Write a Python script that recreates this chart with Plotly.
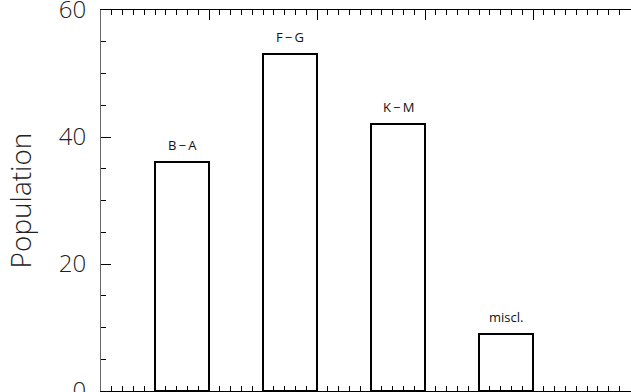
import plotly.graph_objects as go

categories = ["B\u2009\u2212\u2009A", "F\u2009\u2212\u2009G", "K\u2009\u2212\u2009M", "miscl."]
positions = [0.75, 1.75, 2.75, 3.75]
population = [36, 53, 42, 9]

FONT = "Open Sans"

fig = go.Figure()
fig.add_trace(go.Bar(
    x=positions, y=population, width=0.5,
    marker=dict(color="white", line=dict(color="black", width=2)),
    hoverinfo="skip", showlegend=False,
))
for xc, val, lab in zip(positions, population, categories):
    fig.add_annotation(x=xc, y=val, text=lab, showarrow=False,
                       yanchor="bottom", yshift=6,
                       font=dict(family=FONT, size=13, color="#111", weight=400))

fig.update_layout(
    width=631, height=392,
    margin=dict(l=101, r=0, t=10, b=1),
    plot_bgcolor="white", paper_bgcolor="white",
    bargap=0,
    xaxis=dict(range=[0, 4.907], showgrid=False, zeroline=False,
               showline=True, linecolor="black", linewidth=1, mirror="allticks",
               ticks="inside", ticklen=10, tickcolor="black", dtick=1, tick0=0,
               showticklabels=False,
               minor=dict(ticks="inside", ticklen=5, dtick=0.1, tick0=0, tickcolor="black", showgrid=False)),
    yaxis=dict(range=[0, 60.0001], showgrid=False, zeroline=False,
               showline=True, linecolor="#666", linewidth=1, automargin=False,
               ticks="inside", ticklen=10, tickcolor="black", dtick=20, tick0=0,
               ticklabelstandoff=9, ticklabeloverflow="allow",
               tickfont=dict(family=FONT, size=24, color="#222", weight=300),
               title=dict(text="Population", standoff=18,
                          font=dict(family=FONT, size=28, color="#222", weight=300)),
               minor=dict(ticks="inside", ticklen=5, dtick=5, tick0=0, tickcolor="black", showgrid=False)),
)

fig.write_html("out.html", config={"displayModeBar": False}, post_script="document.body.style.margin='0';")
